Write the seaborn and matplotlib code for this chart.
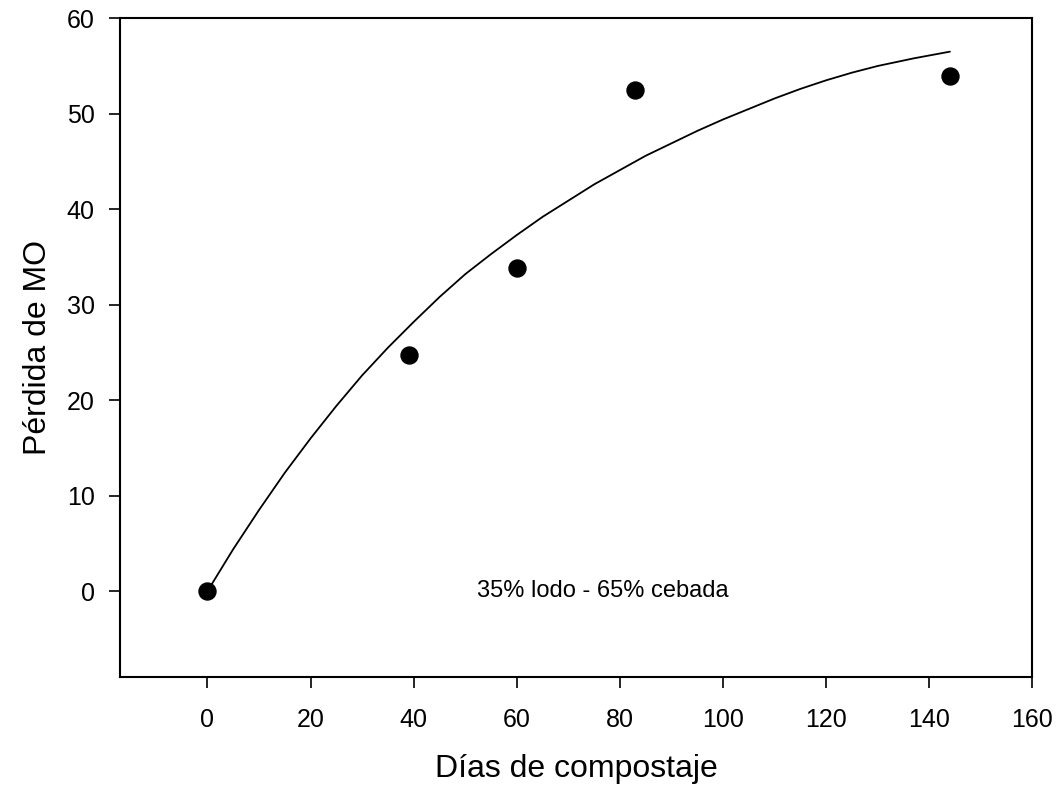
import matplotlib
matplotlib.use("Agg")
import matplotlib.pyplot as plt
import seaborn as sns
import pandas as pd

# measured points
dias = [0, 39, 60, 83, 144]
perdida = [0.0, 24.7, 33.8, 52.5, 53.9]

# fitted curve
curva_x = [0, 5, 10, 15, 20, 25, 30, 35, 40, 45, 50, 55, 60, 65, 70, 75, 80, 85, 90,
           95, 100, 105, 110, 115, 120, 125, 130, 137, 144]
curva_y = [0.0, 4.4, 8.5, 12.4, 16.0, 19.4, 22.6, 25.5, 28.2, 30.8, 33.2, 35.3, 37.3,
           39.2, 40.9, 42.6, 44.1, 45.6, 46.9, 48.2, 49.4, 50.5, 51.6, 52.6, 53.5,
           54.3, 55.0, 55.8, 56.5]

x_ticks = [0, 20, 40, 60, 80, 100, 120, 140, 160]
y_ticks = [0, 10, 20, 30, 40, 50, 60]

sns.set_theme(style="ticks")
plt.rcParams['font.family'] = ['Liberation Sans', 'DejaVu Sans']
plt.rcParams['text.color'] = 'black'
plt.rcParams['axes.labelcolor'] = 'black'
plt.rcParams['xtick.color'] = 'black'
plt.rcParams['ytick.color'] = 'black'
narrow = ['Liberation Sans Narrow', 'Liberation Sans', 'DejaVu Sans']

fig = plt.figure(figsize=(10.6, 7.92), dpi=100)
ax = fig.add_axes([0.113, 0.145, 0.861, 0.832])

df = pd.DataFrame({'x': dias, 'y': perdida})
fit = pd.DataFrame({'x': curva_x, 'y': curva_y})

sns.lineplot(data=fit, x='x', y='y', ax=ax, color='black', linewidth=1.3, sort=True)
sns.scatterplot(data=df, x='x', y='y', ax=ax, color='black', s=150, edgecolor='black', zorder=3)

ax.set_xlim(-17, 160)
ax.set_ylim(-9, 60)
ax.set_xticks(x_ticks)
ax.set_yticks(y_ticks)

for s in ax.spines.values():
    s.set_color('black')
    s.set_linewidth(1.5)

ax.tick_params(axis='both', direction='out', length=8, width=1.2, color='black')
ax.tick_params(axis='y', labelsize=18, pad=10)
ax.tick_params(axis='x', labelsize=18, pad=14)
for lab in ax.get_xticklabels():
    lab.set_family(narrow)

ax.set_xlabel('Días de compostaje', fontsize=23, family=narrow, labelpad=16)
ax.set_ylabel('Pérdida de MO', fontsize=23, labelpad=10)

ax.text(76.7, 0, '35% lodo - 65% cebada', fontsize=17, ha='center', va='center')

fig.savefig('out.png', dpi=100)
